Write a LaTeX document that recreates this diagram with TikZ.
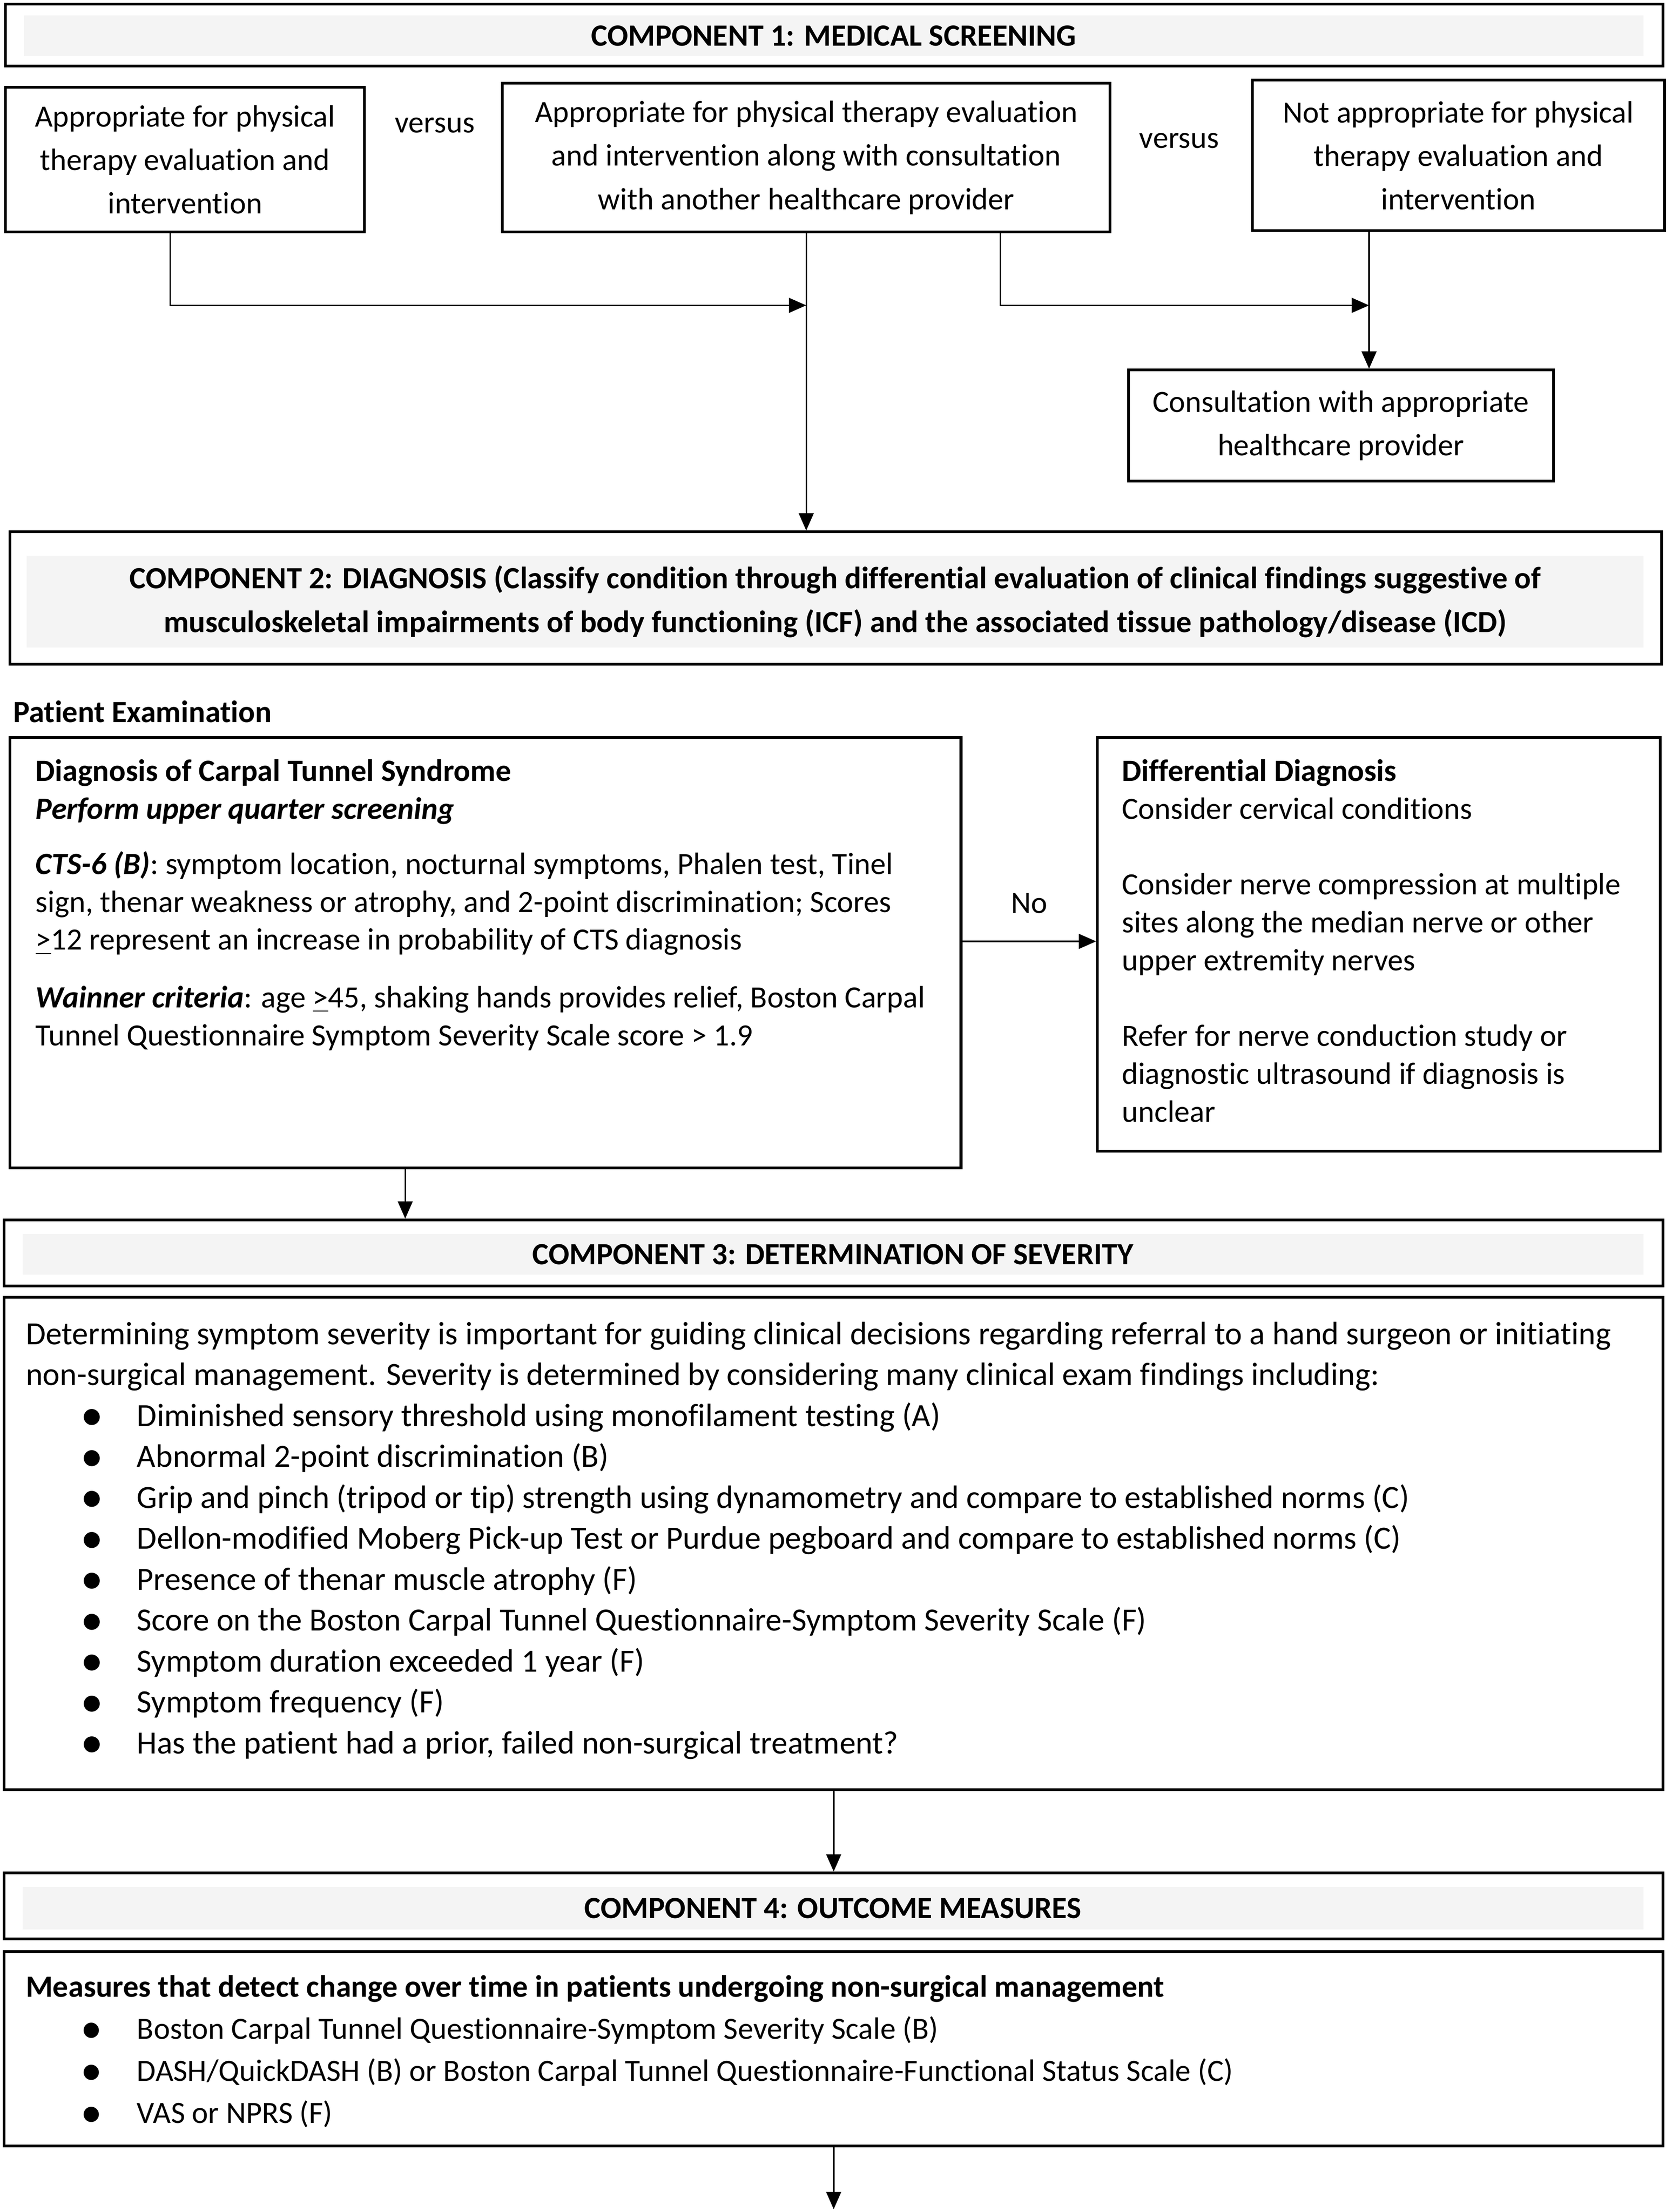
\documentclass[tikz,border=0pt]{standalone}
\usepackage{fontspec}
\setmainfont{Carlito}[Ligatures=NoCommon]
\usetikzlibrary{arrows.meta,positioning}
\definecolor{bandgray}{HTML}{F4F4F4}
\newcommand{\bul}[1]{\hspace*{0.78cm}\makebox[0.8cm][l]{\raisebox{-0.12em}{\scalebox{1.4}{\textbullet}}}#1}
\newcommand{\uge}{\underline{>}}

\begin{document}
\begin{tikzpicture}[>={Triangle[length=7pt,width=6pt]},
  box/.style={draw, line width=1.1pt, inner sep=0pt, align=center,
              font=\fontsize{12.5}{17.6}\selectfont},
  band/.style={fill=bandgray, inner sep=0pt, align=center,
               font=\fontsize{12.5}{17.6}\selectfont\bfseries},
  txt/.style={anchor=north west, inner sep=0pt, align=left,
              font=\fontsize{12.5}{15.3}\selectfont},
  lbl/.style={inner sep=0pt, font=\fontsize{12.5}{14}\selectfont},
  arr/.style={->, line width=0.6pt}]

  \useasboundingbox (0,0) rectangle (23.76,-31.44);

  % Component 1
  \node[box, minimum width=23.56cm, minimum height=0.88cm] (c1) at (11.86,-0.50) {};
  \node[band, minimum width=23.02cm, minimum height=0.58cm] (c1b) at (11.85,-0.51)
    {COMPONENT 1: MEDICAL SCREENING};

  \node[box, minimum width=5.10cm, minimum height=2.06cm] (apt) at (2.63,-2.27)
    {Appropriate for physical\\therapy evaluation and\\intervention};
  \node[box, minimum width=8.64cm, minimum height=2.12cm] (cons) at (11.46,-2.24)
    {Appropriate for physical therapy evaluation\\and intervention along with consultation\\with another healthcare provider};
  \node[box, minimum width=5.86cm, minimum height=2.14cm] (napt) at (20.73,-2.21)
    {Not appropriate for physical\\therapy evaluation and\\intervention};
  \node[lbl] (vs1) at (6.18,-1.78) {versus};
  \node[lbl] (vs2) at (16.76,-2.00) {versus};
  \node[box, minimum width=6.04cm, minimum height=1.58cm] (prov) at (19.06,-6.05)
    {Consultation with appropriate\\healthcare provider};

  % Component 2
  \node[box, minimum width=23.48cm, minimum height=1.88cm] (c2) at (11.88,-8.50) {};
  \node[band, minimum width=22.98cm, minimum height=1.30cm] (c2b) at (11.87,-8.55)
    {COMPONENT 2: DIAGNOSIS (Classify condition through differential evaluation of clinical findings suggestive of\\
     musculoskeletal impairments of body functioning (ICF) and the associated tissue pathology/disease (ICD)};

  \node[txt, font=\fontsize{12.5}{15.3}\selectfont\bfseries] (pex) at (0.18,-9.95) {Patient Examination};

  \node[box, minimum width=13.52cm, minimum height=6.12cm] (cts) at (6.90,-13.54) {};
  \node[txt] (ctst) at (0.50,-10.79)
    {{\bfseries Diagnosis of Carpal Tunnel Syndrome}\\
     {\bfseries\itshape Perform upper quarter screening}\\[7pt]
     {\bfseries\itshape CTS-6 (B)}: symptom location, nocturnal symptoms, Phalen test, Tinel\\
     sign, thenar weakness or atrophy, and 2-point discrimination; Scores\\
     \uge12 represent an increase in probability of CTS diagnosis\\[8pt]
     {\bfseries\itshape Wainner criteria}: age \uge45, shaking hands provides relief, Boston Carpal\\
     Tunnel Questionnaire Symptom Severity Scale score > 1.9};

  \node[box, minimum width=8.00cm, minimum height=5.88cm] (diff) at (19.60,-13.42) {};
  \node[txt] (difft) at (15.94,-10.79)
    {{\bfseries Differential Diagnosis}\\
     Consider cervical conditions\\[15.3pt]
     Consider nerve compression at multiple\\
     sites along the median nerve or other\\
     upper extremity nerves\\[15.3pt]
     Refer for nerve conduction study or\\
     diagnostic ultrasound if diagnosis is\\
     unclear};

  % Component 3
  \node[box, minimum width=23.58cm, minimum height=0.94cm] (c3) at (11.85,-17.81) {};
  \node[band, minimum width=23.04cm, minimum height=0.58cm] (c3b) at (11.84,-17.83)
    {COMPONENT 3: DETERMINATION OF SEVERITY};

  \node[box, minimum width=23.58cm, minimum height=7.00cm] (sev) at (11.85,-21.94) {};
  \node[txt, font=\fontsize{13.1}{16.55}\selectfont] (sevt) at (0.36,-18.78)
    {Determining symptom severity is important for guiding clinical decisions regarding referral to a hand surgeon or initiating\\
     non-surgical management. Severity is determined by considering many clinical exam findings including:\\
     \bul{Diminished sensory threshold using monofilament testing (A)}\\
     \bul{Abnormal 2-point discrimination (B)}\\
     \bul{Grip and pinch (tripod or tip) strength using dynamometry and compare to established norms (C)}\\
     \bul{Dellon-modified Moberg Pick-up Test or Purdue pegboard and compare to established norms (C)}\\
     \bul{Presence of thenar muscle atrophy (F)}\\
     \bul{Score on the Boston Carpal Tunnel Questionnaire-Symptom Severity Scale (F)}\\
     \bul{Symptom duration exceeded 1 year (F)}\\
     \bul{Symptom frequency (F)}\\
     \bul{Has the patient had a prior, failed non-surgical treatment?}};

  % Component 4
  \node[box, minimum width=23.58cm, minimum height=0.94cm] (c4) at (11.85,-27.09) {};
  \node[band, minimum width=23.04cm, minimum height=0.60cm] (c4b) at (11.84,-27.12)
    {COMPONENT 4: OUTCOME MEASURES};

  \node[box, minimum width=23.58cm, minimum height=2.76cm] (meas) at (11.85,-29.12) {};
  \node[txt, font=\fontsize{12.5}{17}\selectfont] (meast) at (0.36,-28.07)
    {{\bfseries Measures that detect change over time in patients undergoing non-surgical management}\\
     \bul{Boston Carpal Tunnel Questionnaire-Symptom Severity Scale (B)}\\
     \bul{DASH/QuickDASH (B) or Boston Carpal Tunnel Questionnaire-Functional Status Scale (C)}\\
     \bul{VAS or NPRS (F)}};
  \coordinate (next) at (11.86,-31.40);

  % Arrows
  \coordinate (jA) at (11.46,-4.34);
  \coordinate (jB) at (19.46,-4.34);
  \draw[arr] ([xshift=-0.21cm]apt.south) |- (jA);
  \draw[arr] (cons.south) -- (cons.south |- c2.north);
  \draw[arr] ([xshift=2.76cm]cons.south) |- (jB);
  \draw[arr] ([xshift=-1.27cm]napt.south) -- ([xshift=-1.27cm]napt.south |- prov.north);
  \draw[arr] ([yshift=0.16cm]cts.east) --
    node[lbl, midway, yshift=0.54cm] (no) {No} ([yshift=0.16cm]cts.east -| diff.west);
  \draw[arr] ([xshift=-1.14cm]cts.south) -- ([xshift=-1.14cm]cts.south |- c3.north);
  \draw[arr] (sev.south) -- (sev.south |- c4.north);
  \draw[arr] (meas.south) -- (meas.south |- next);
\end{tikzpicture}
\end{document}
